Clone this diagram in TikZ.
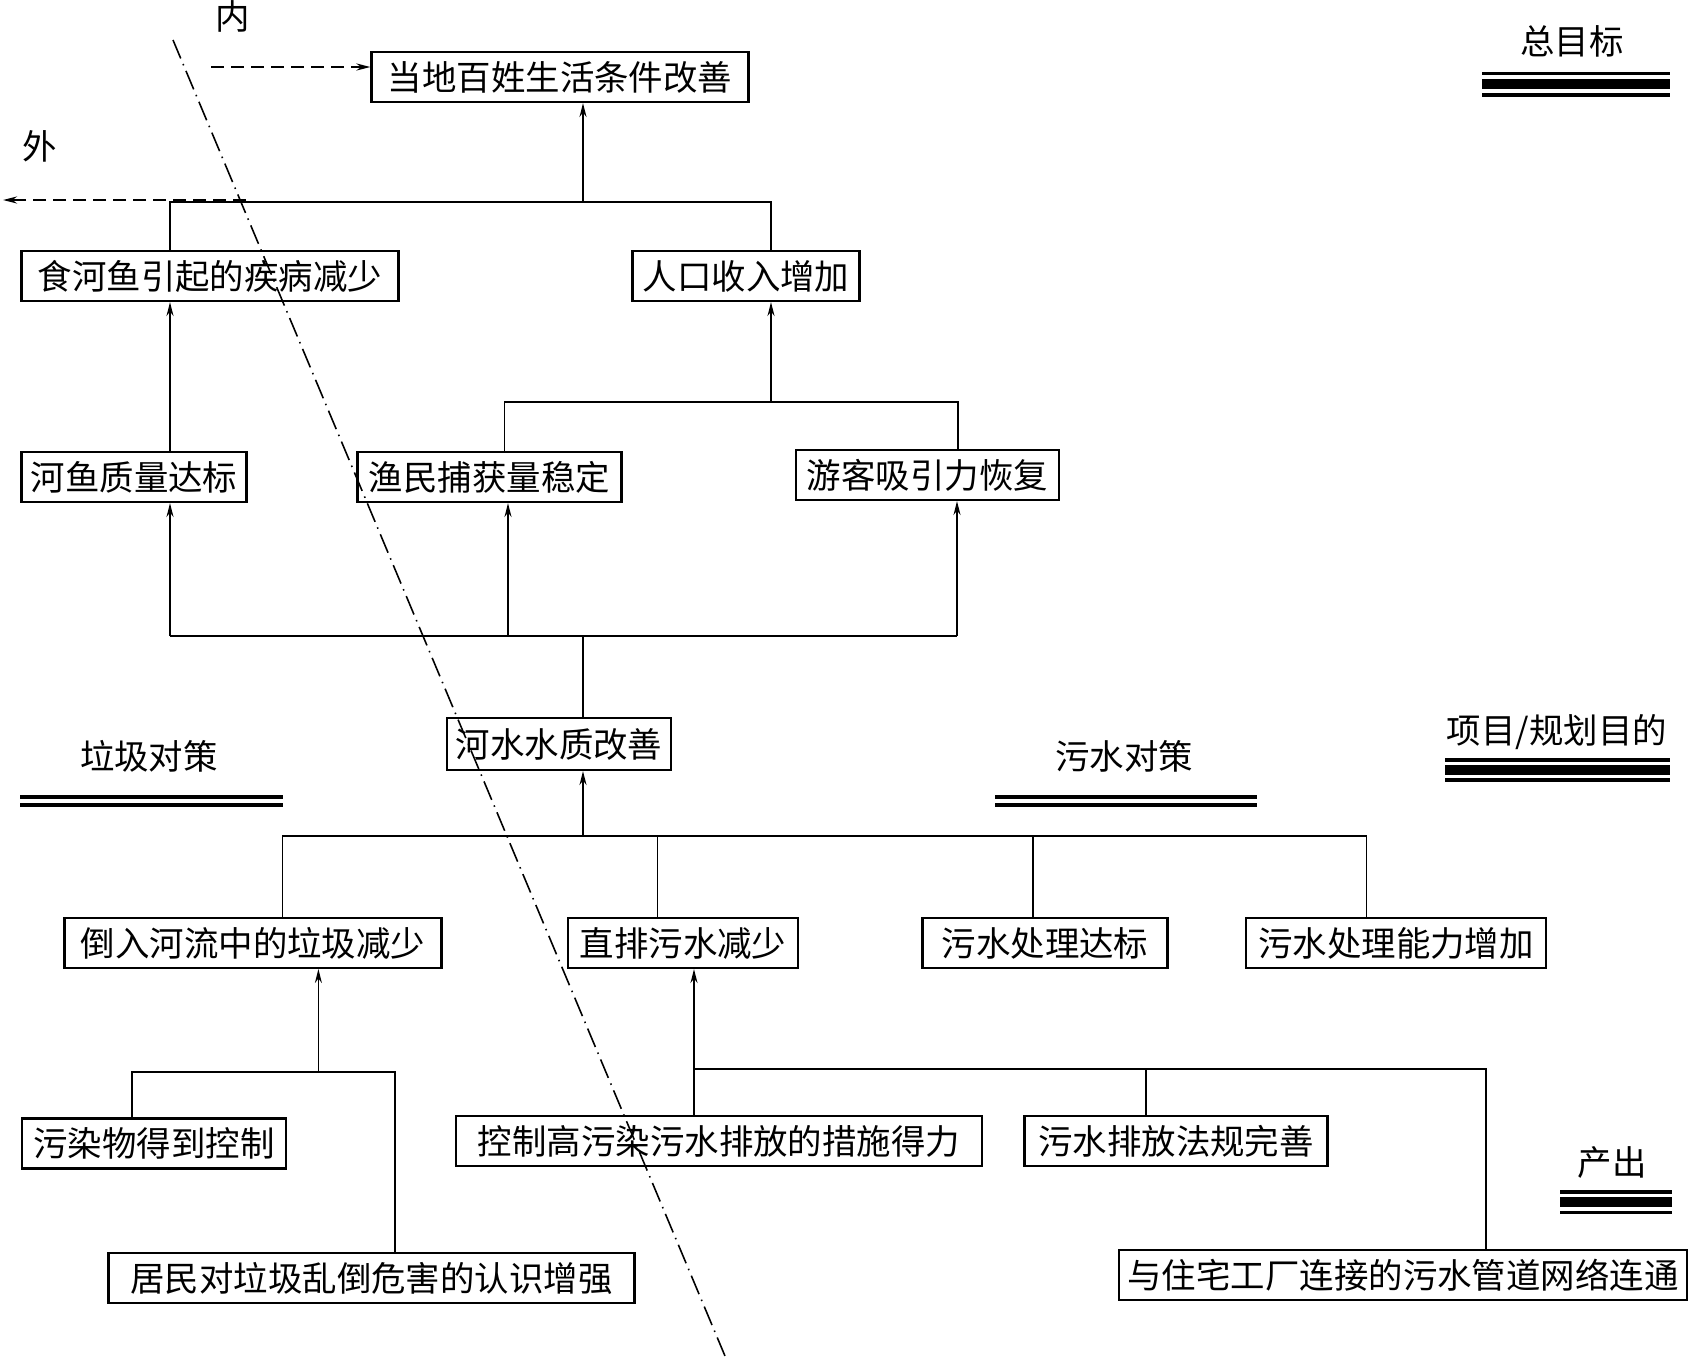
\documentclass[tikz,border=0pt]{standalone}
\usepackage{fontspec}
\newfontfamily\cjk{Noto Sans CJK SC}
\usetikzlibrary{arrows.meta}

\tikzset{
  box/.style={draw, line width=0.6pt, inner sep=0pt, minimum height=5mm,
    font=\cjk\fontsize{9.8}{11}\selectfont},
  lbl/.style={inner sep=0pt, font=\cjk\fontsize{9.8}{11}\selectfont},
  link/.style={line width=0.45pt},
  arr/.style={line width=0.45pt, -{Stealth[length=1.4mm,width=0.7mm]}},
  dasharr/.style={line width=0.6pt, dash pattern=on 1.3mm off 0.7mm, -{Stealth[length=1.4mm,width=0.7mm]}},
  bound/.style={line width=0.45pt, dash pattern=on 2mm off 0.6mm on 0.15mm off 0.6mm},
  thinrule/.style={line width=1pt},
  thickrule/.style={line width=2.8pt}
}

\begin{document}
\begin{tikzpicture}[x=0.1mm, y=-0.1mm]
\useasboundingbox (0,0) rectangle (1698,1358);

% boxes
\node[box, minimum width=37.7mm] (a) at (560,77) {当地百姓生活条件改善};
\node[box, minimum width=37.7mm] (b) at (210,276) {食河鱼引起的疾病减少};
\node[box, minimum width=22.7mm] (c) at (746,276) {人口收入增加};
\node[box, minimum width=22.5mm] (d) at (134,477) {河鱼质量达标};
\node[box, minimum width=26.4mm] (e) at (489.5,477) {渔民捕获量稳定};
\node[box, minimum width=26.3mm] (f) at (927.5,475) {游客吸引力恢复};
\node[box, minimum width=22.4mm, minimum height=5.2mm] (g) at (559,744) {河水水质改善};
\node[box, minimum width=37.7mm] (h) at (253,943) {倒入河流中的垃圾减少};
\node[box, minimum width=23mm] (i) at (683,943) {直排污水减少};
\node[box, minimum width=24.5mm] (j) at (1045,943) {污水处理达标};
\node[box, minimum width=30mm] (k) at (1396,943) {污水处理能力增加};
\node[box, minimum width=26.4mm] (l) at (154,1143.5) {污染物得到控制};
\node[box, minimum width=52.6mm] (m) at (371.5,1278) {居民对垃圾乱倒危害的认识增强};
\node[box, minimum width=52.6mm] (n) at (719,1141) {控制高污染污水排放的措施得力};
\node[box, minimum width=30.3mm] (o) at (1176,1141) {污水排放法规完善};
\node[box, minimum width=56.8mm] (p) at (1403,1275) {与住宅工厂连接的污水管道网络连通};

% inside / outside
\node[lbl] (nei) at (233,16) {内};
\node[lbl] (wai) at (40,146) {外};
\coordinate (bd1) at (173,40);
\coordinate (bd2) at (725,1356);
\draw[bound] (bd1) -- (bd2);
\coordinate (inS) at (211,67);
\draw[dasharr] (inS) -- (inS -| a.west);
\coordinate (outS) at (246,200);
\coordinate (outE) at (3,200);
\draw[dasharr] (outS) -- (outE);

% level 1
\coordinate (tB) at (170,202);
\coordinate (tC) at (771,202);
\coordinate (tA) at (583,202);
\draw[link] (tB |- b.north) -- (tB) -- (tC) -- (tC |- c.north);
\draw[arr] (tA) -- (tA |- a.south);
\draw[arr] (tB |- d.north) -- (tB |- b.south);

% level 2
\coordinate (tE) at (504.6,402);
\coordinate (tF) at (958,402);
\coordinate (tM) at (771,402);
\draw[link] (tE |- e.north) -- (tE) -- (tF) -- (tF |- f.north);
\draw[arr] (tM) -- (tM |- c.south);

% level 3
\coordinate (gD) at (170,636);
\coordinate (gE) at (508,636);
\coordinate (gF) at (957,636);
\coordinate (gG) at (583,636);
\draw[link] (gD) -- (gF);
\draw[link] (gG) -- (gG |- g.north);
\draw[arr] (gD) -- (gD |- d.south);
\draw[arr] (gE) -- (gE |- e.south);
\draw[arr] (gF) -- (gF |- f.south);

% level 4
\coordinate (hH) at (282.6,836);
\coordinate (hI) at (657.3,836);
\coordinate (hJ) at (1033,836);
\coordinate (hK) at (1366.6,836);
\coordinate (hG) at (583,836);
\draw[link] (hH |- h.north) -- (hH) -- (hK) -- (hK |- k.north);
\draw[link] (hI) -- (hI |- i.north);
\draw[link] (hJ) -- (hJ |- j.north);
\draw[arr] (hG) -- (hG |- g.south);

% level 5
\coordinate (lL) at (132,1072);
\coordinate (lM) at (395,1072);
\coordinate (lH) at (318.4,1072);
\draw[link] (lL |- l.north) -- (lL) -- (lM) -- (lM |- m.north);
\draw[arr] (lH) -- (lH |- h.south);
\coordinate (nN) at (694,1069);
\coordinate (nO) at (1145.7,1069);
\coordinate (nP) at (1485.8,1069);
\draw[link] (nN |- n.north) -- (nN) -- (nP) -- (nP |- p.north);
\draw[link] (nO) -- (nO |- o.north);
\draw[arr] (nN) -- (nN |- i.south);

% legend
\node[lbl] (zong) at (1572,41) {总目标};
\draw[thinrule] (1482,73.5) -- (1670,73.5);
\draw[thickrule] (1482,84) -- (1670,84);
\draw[thinrule] (1482,95) -- (1670,95);
\node[lbl] (xiang) at (1557,732) {项目/规划目的};
\draw[thinrule] (1445,760) -- (1670,760);
\draw[thickrule] (1445,770) -- (1670,770);
\draw[thinrule] (1445,780) -- (1670,780);
\node[lbl] (chan) at (1612,1162) {产出};
\draw[thinrule] (1560,1192) -- (1672,1192);
\draw[thickrule] (1560,1202) -- (1672,1202);
\draw[thinrule] (1560,1212.5) -- (1672,1212.5);
\node[lbl] (laji) at (149,756) {垃圾对策};
\draw[thinrule] (20,797) -- (283,797);
\draw[thinrule] (20,805) -- (283,805);
\node[lbl] (wushui) at (1124,756) {污水对策};
\draw[thinrule] (995,797) -- (1257,797);
\draw[thinrule] (995,805) -- (1257,805);
\end{tikzpicture}
\end{document}
